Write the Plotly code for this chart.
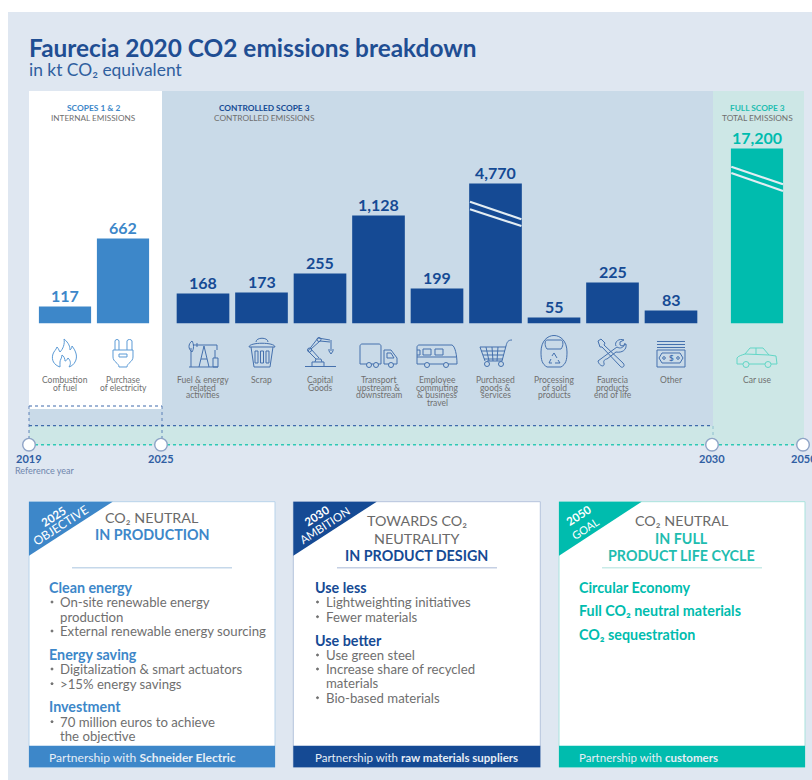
import re
import plotly.graph_objects as go

W, H = 812, 780
FONT = "Lato"

# ---- data ----
scope12_categories = ["Combustion\nof fuel", "Purchase\nof electricity"]
scope12_labels = ["117", "662"]
scope12_drawn = [17, 85]

scope3_categories = ["Fuel & energy\nrelated\nactivities", "Scrap", "Capital\nGoods",
                     "Transport\nupstream &\ndownstream", "Employee\ncommuting\n& business\ntravel",
                     "Purchased\ngoods &\nservices", "Processing\nof sold\nproducts",
                     "Faurecia\nproducts\nend of life", "Other"]
scope3_labels = ["168", "173", "255", "1,128", "199", "4,770", "55", "225", "83"]
# the source chart's bars are not to scale (broken bars), so drawn heights are read separately
scope3_drawn = [30, 31, 50, 108, 35, 140, 6, 41, 13]

full_categories = ["Car use"]
full_labels = ["17,200"]
full_drawn = [175]

years = ["2019", "2025", "2030", "2050"]

BLUE = "#3d87c9"
NAVY = "#154a94"
TEAL = "#00bcae"
GREY = "#6f6f6f"
BG = "#dfe7f1"
PANEL = "#c9dae8"
MINT = "#cde7e6"

shapes, ann = [], []


def px(x):
    return x / W


def py(y):
    return 1 - y / H


def rect(x0, y0, x1, y1, fill, line=None, layer="below", lw=1):
    shapes.append(dict(type="rect", xref="paper", yref="paper", x0=px(x0), x1=px(x1), y0=py(y0), y1=py(y1),
                       fillcolor=fill, line=dict(color=line or fill, width=lw if line else 0), layer=layer))


def line(x0, y0, x1, y1, color, lw=1, dash=None, layer="below"):
    shapes.append(dict(type="line", xref="paper", yref="paper", x0=px(x0), x1=px(x1), y0=py(y0), y1=py(y1),
                       line=dict(color=color, width=lw, dash=dash or "solid"), layer=layer))


def path(d, color=None, lw=1, fill=None, layer="above"):
    def conv(m):
        return f"{px(float(m.group(1))):.5f},{py(float(m.group(2))):.5f}"
    s = re.sub(r"(-?\d+\.?\d*)[ ,]+(-?\d+\.?\d*)", conv, d)
    shapes.append(dict(type="path", xref="paper", yref="paper", path=s, fillcolor=fill or "rgba(0,0,0,0)",
                       line=dict(color=color or "rgba(0,0,0,0)", width=lw if color else 0), layer=layer))


def circ(cx, cy, r, color, lw=1, fill=None, layer="above"):
    shapes.append(dict(type="circle", xref="paper", yref="paper", x0=px(cx - r), x1=px(cx + r),
                       y0=py(cy + r), y1=py(cy - r), fillcolor=fill or "rgba(0,0,0,0)",
                       line=dict(color=color, width=lw), layer=layer))


def T(x, y, s, size, color, anchor="left", angle=0, family=None):
    ann.append(dict(xref="paper", yref="paper", x=px(x), y=py(y), text=s, showarrow=False, xanchor=anchor,
                    yanchor="middle", textangle=angle, borderpad=0, borderwidth=0,
                    font=dict(family=family or FONT, size=size, color=color)))


def cat_labels(axis, cats):
    for c in cats:
        for i, part in enumerate(c.split("\n")):
            ann.append(dict(xref=axis, yref="paper", x=c, y=py(380 + i * 7.6), text=part, showarrow=False,
                            xanchor="center", yanchor="middle", borderpad=0,
                            font=dict(family=FONT, size=8.5, color=GREY)))


def value_labels(axis, cats, drawn, labels, color):
    for c, v, s in zip(cats, drawn, labels):
        ann.append(dict(xref=axis, yref="y", x=c, y=v, text=f"<b>{s}</b>", showarrow=False, xanchor="center",
                        yanchor="bottom", yshift=1, borderpad=0, font=dict(family=FONT, size=16, color=color)))


# ---- panels ----
rect(8, 12, 812, 780, BG)
rect(162, 91, 713, 426, PANEL)
rect(29, 406, 162, 426, PANEL)
rect(29, 91, 162, 409, "#ffffff")
rect(29, 426, 804, 445, MINT)
rect(713, 91, 804, 445, MINT)

DOT = "#3f6bab"
line(29, 406, 162, 406, DOT, 1.2, "dot")
line(29, 425.6, 713, 425.6, DOT, 1.3, "dot")
line(29, 406, 29, 445, DOT, 0.8, "dot")
line(162, 406, 162, 445, DOT, 0.8, "dot")
line(713, 426, 713, 445, "#7fb7c9", 0.8, "dot")
line(29, 444.7, 804, 444.7, "#2fc9b5", 1.5, "dot")

for cx in [29, 161, 712, 803]:
    circ(cx, 444.7, 6.3, "#8ea3c6", 1.4, "#ffffff")
for y_, cx in zip(years, [29, 161, 712, 804]):
    T(cx, 458, f"<b>{y_}</b>", 11, "#2f5ea3", "center")
T(15, 470.5, "Reference year", 9, "#6f86ad")

# ---- header ----
T(29, 47, "<b>Faurecia 2020 CO2 emissions breakdown</b>", 24.4, "#1f4e93")
T(29, 69, "in kt CO\u2082 equivalent", 17.4, "#2f5f9f")

T(93, 108, "<b>SCOPES 1 & 2</b>", 8.4, BLUE, "center")
T(93, 118, "INTERNAL EMISSIONS", 8.2, GREY, "center")
T(264, 108, "<b>CONTROLLED SCOPE 3</b>", 8.3, NAVY, "center")
T(264, 118, "CONTROLLED EMISSIONS", 8.3, GREY, "center")
T(757, 108, "<b>FULL SCOPE 3</b>", 8.3, "#22bdb0", "center")
T(757, 118, "TOTAL EMISSIONS", 8.3, GREY, "center")

# ---- bar breaks ----
for x0, x1, ys in [(470, 521.4, [(201.7, 219.3), (209.3, 226)]), (731.3, 783, [(166.7, 184.3), (173, 191)])]:
    for a, b in ys:
        line(x0, a, x1, b, "#e3edf3", 2.2, layer="above")

# ---- icons ----
C1, C2, C3 = "#5c9bd6", "#4470ad", "#62d6c6"
# flame
path("M 60 367 C 54 365 51 360 53 354 C 54 351 56 350 57 347 C 59 349 59 351 60 352 C 63 349 65 344 64 339 "
     "C 69 343 70 347 70 350 C 71 349 72 348 72 346 C 76 351 78 357 75 362 C 74 364 72 366 69 367 "
     "C 71 364 71 361 68 358 C 67 360 66 361 65 361 C 65 359 64 356 62 355 C 62 358 60 360 60 362 C 60 364 60 365 60 367 Z", C1)
# plug
path("M 115 350 L 115 341 C 115 339 119 339 119 341 L 119 350 M 127 350 L 127 341 C 127 339 132 339 132 341 L 132 350", C1)
path("M 113 350 L 133 350 L 133 357 C 133 362 127 363 127 367 L 119 367 C 119 363 113 362 113 357 Z", C1)
path("M 119 354 L 127 354 L 127 357 L 119 357 Z", C1)
# pump jack
path("M 189 367 L 218 367 M 191 367 L 191 348 M 199 367 L 204 346 L 209 367 M 201 359 L 207 359 "
     "M 193 345 L 217 345 L 217 350 M 197 343 L 197 347", C2)
path("M 192 341 C 188 344 188 349 192 352 C 194 349 194 344 192 341 Z M 215 358 L 218 358 L 218 367 L 213 367 L 213 358 Z "
     "M 215 350 L 215 358", C2)
# trash
path("M 256 342 C 256 337 268 337 268 342 M 249 347 C 249 342 275 342 275 347 Z M 251 347 L 254 367 L 270 367 L 273 347", C2)
path("M 255 351 L 258 351 L 258 363 L 255 363 Z M 260.5 351 L 263.5 351 L 263.5 363 L 260.5 363 Z M 266 351 L 269 351 L 269 363 L 266 363 Z", C2)
# robot
path("M 305 366.5 L 336 366.5 M 312 366 L 312 362 L 324 362 L 324 366 M 315 362 L 316 359 L 321 359 L 322 362", C2)
path("M 316 359 L 308 351 L 318 338 L 330 340 M 319 358 L 311 349 L 320 341 L 330 342 M 331 340 L 331 349 M 328 350 L 334 350 M 329 351 L 331 354 L 333 351", C2)
circ(309.5, 350, 2, C2); circ(319, 339.5, 2, C2)
# truck
path("M 362 344 L 379 344 C 380 344 381 345 381 346 L 381 364 L 360 364 L 360 346 C 360 345 361 344 362 344 Z", C2)
path("M 384 350 L 391 350 L 397 358 L 397 364 L 384 364 Z M 387 353 L 391 353 L 394 358 L 387 358 Z", C2)
for c in [369, 376, 391]:
    circ(c, 365, 2.5, C2, 1, PANEL)
# bus
path("M 419 345 L 452 345 C 455 346 457 355 457 364 L 417 364 L 417 347 C 417 346 418 345 419 345 Z "
     "M 417 357 L 457 357", C2)
path("M 423 349 L 431 349 L 431 355 L 423 355 Z M 435 349 L 443 349 L 443 355 L 435 355 Z M 417 350 L 420 350 L 420 355 L 417 355", C2)
for c in [427, 446]:
    circ(c, 365, 2.5, C2, 1, PANEL)
# cart
path("M 512 340 C 508 340 507 342 506 346 L 502 361 L 487 361 M 480 347 L 506 347 M 481 351 L 505 351 M 483 355 L 504 355 M 484 359 L 503 359 "
     "M 480 347 L 485 361 M 486 347 L 489 361 M 492 347 L 493 361 M 498 347 L 497 361", C2)
for c in [487, 501]:
    circ(c, 364, 2.5, C2, 1, PANEL)
# recycling bin
path("M 541 352 C 541 330 567 330 567 352 C 567 360 566 364 561 367 L 547 367 C 542 364 541 360 541 352 Z", C2)
path("M 547 340 L 561 340 C 563 340 564 345 561 349 L 547 349 C 544 345 545 340 547 340 Z", C2)
path("M 552 356 L 554 353 L 557 358 M 558 360 L 560 363 L 555 363 M 552 363 L 549 363 L 551 359", C2)
# tools
path("M 598 341 L 601 339 L 605 343 L 604 345 L 623 363 C 626 366 622 369 620 366 L 602 347 L 600 347 Z", C2)
path("M 625 343 C 624 348 620 349 617 347 L 598 361 C 599 366 605 368 604 363 C 603 361 605 359 607 359 L 616 352 "
     "C 622 353 627 350 626 344 L 622 346 L 620 345 L 620 342 L 624 340 C 619 338 614 342 616 346", C2)
# cash
path("M 657 341.5 L 685 341.5 M 657 344.5 L 685 344.5 M 657 347.5 L 685 347.5 M 657 350 L 685 350 L 685 367 L 657 367 Z", C2)
path("M 662 353 L 680 353 L 683 358 L 680 363 L 662 363 L 659 358 Z", C2)
circ(664, 358, 1.3, C2); circ(678, 358, 1.3, C2)
T(671, 358, "<b>$</b>", 8, C2, "center")
# car
path("M 737 364 L 737 358 C 738 356 742 355 745 354 L 750 348 L 763 348 L 769 355 L 776 356 L 777 364 Z "
     "M 745 354 L 769 355 M 756 348 L 756 354", C3)
for c in [746, 768]:
    circ(c, 364.5, 3, C3, 1, MINT)


# ---- cards ----
def card(x0, x1, color, tri_x, border, rule, rule_x0, badge, title, bullets, footer, fx, fsize):
    rect(x0, 501.7, x1, 767.3, "#ffffff", border, "below", 1)
    rect(x0, 745.7, x1, 767.3, color)
    path(f"M {x0} 501.7 L {tri_x} 501.7 L {x0} 555.7 Z", fill=color)
    line(rule_x0, 567.7, rule_x0 + 160, 567.7, rule, 1.5)
    for (bx, by, s, size) in badge:
        T(bx, by, s, size, "#ffffff", "center", -33)
    for (tx, ty, s, col) in title:
        T(tx, ty, s, 14.3, col, "center")
    for (ty, s, kind) in bullets:
        if kind == "h":
            T(fx, ty, f"<b>{s}</b>", 14.3, color)
        else:
            if kind == "b":
                circ(fx + 3, ty, 1, GREY, 1, GREY)
            T(fx + 11, ty, s, 13.2, GREY)
    T(fx, 757, footer, fsize, "#e6eef6")


TGREY = "#6a6a6a"
card(29, 275, BLUE, 112.7, "#b8d3ea", "#c5d8ea", 72,
     [(53, 516, "<b>2025</b>", 11.5), (60, 525, "OBJECTIVE", 12)],
     [(152, 517, "CO\u2082 NEUTRAL", TGREY), (152, 534.5, "<b>IN PRODUCTION</b>", BLUE)],
     [(587.7, "Clean energy", "h"), (602, "On-site renewable energy", "b"), (616.7, "production", "c"),
      (631, "External renewable energy sourcing", "b"), (654.7, "Energy saving", "h"),
      (669, "Digitalization & smart actuators", "b"), (683.7, ">15% energy savings", "b"),
      (706.7, "Investment", "h"), (721.7, "70 million euros to achieve", "b"), (736, "the objective", "c")],
     "Partnership with <b>Schneider Electric</b>", 49, 12.1)

card(293.3, 540.3, NAVY, 376.7, "#b5c3dd", "#c5d0e4", 337,
     [(316.7, 515, "<b>2030</b>", 11.5), (324, 525, "AMBITION", 11.5)],
     [(416.7, 520.7, "TOWARDS CO\u2082", TGREY), (416.7, 538, "NEUTRALITY", TGREY),
      (416.7, 555.7, "<b>IN PRODUCT DESIGN</b>", NAVY)],
     [(587.7, "Use less", "h"), (602, "Lightweighting initiatives", "b"), (616.7, "Fewer materials", "b"),
      (640, "Use better", "h"), (655, "Use green steel", "b"), (669, "Increase share of recycled", "b"),
      (683.3, "materials", "c"), (697.7, "Bio-based materials", "b")],
     "Partnership with <b>raw materials suppliers</b>", 314.5, 11.5)

card(559, 805, TEAL, 641.7, "#a9e3dd", "#c8ebe8", 602,
     [(578, 515, "<b>2050</b>", 11.5), (585, 528, "GOAL", 11)],
     [(681.7, 520.7, "CO\u2082 NEUTRAL", TGREY), (681.7, 538, "<b>IN FULL</b>", "#1fbdb0"),
      (681.7, 555.7, "<b>PRODUCT LIFE CYCLE</b>", "#1fbdb0")],
     [(587.7, "Circular Economy", "h"), (610.7, "Full CO\u2082 neutral materials", "h"),
      (634.7, "CO\u2082 sequestration", "h")],
     "Partnership with <b>customers</b>", 579, 11.5)

cat_labels("x", scope12_categories)
cat_labels("x2", scope3_categories)
cat_labels("x3", full_categories)
value_labels("x", scope12_categories, scope12_drawn, scope12_labels, BLUE)
value_labels("x2", scope3_categories, scope3_drawn, scope3_labels, NAVY)
value_labels("x3", full_categories, full_drawn, full_labels, TEAL)


# ---- bars ----
def bars(cats, drawn, color, ax):
    return go.Bar(x=cats, y=drawn, cliponaxis=False, marker=dict(color=color, line=dict(width=0)),
                  xaxis=ax, yaxis="y", hoverinfo="skip", showlegend=False)


fig = go.Figure([
    bars(scope12_categories, scope12_drawn, BLUE, "x"),
    bars(scope3_categories, scope3_drawn, NAVY, "x2"),
    bars(full_categories, full_drawn, TEAL, "x3"),
])

hidden = dict(visible=False, fixedrange=True)
fig.update_layout(
    width=W, height=H, margin=dict(l=0, r=0, t=0, b=0), autosize=False,
    paper_bgcolor="#ffffff", plot_bgcolor="rgba(0,0,0,0)", bargap=0.1,
    xaxis=dict(domain=[36 / W, 152 / W], anchor="y", **hidden),
    xaxis2=dict(domain=[173.75 / W, 700.25 / W], anchor="y", **hidden),
    xaxis3=dict(domain=[728 / W, 786 / W], anchor="y", **hidden),
    yaxis=dict(domain=[1 - 323.5 / H, 1], range=[0, 323.5], **hidden),
    shapes=shapes, annotations=ann,
)
fig.write_html("out.html", config=dict(displayModeBar=False), post_script="document.body.style.margin='0';")
